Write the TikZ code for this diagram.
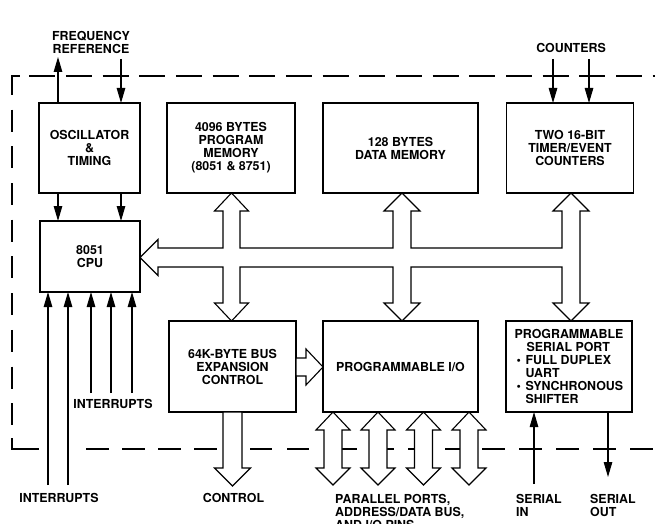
\documentclass[tikz,border=0pt]{standalone}
\usepackage{fontspec}
\setmainfont{TeX Gyre Heros}
\usetikzlibrary{arrows.meta}
\begin{document}
\begin{tikzpicture}[x=1pt,y=-1pt,
  txt/.style={font=\fontsize{12.4}{13}\selectfont\bfseries, align=center},
  blk/.style={txt, draw, line width=1.8pt, inner sep=0pt, outer sep=0pt, line join=miter},
  lbl/.style={txt, inner sep=0pt},
  arr/.style={line width=1.1pt, -{Triangle[length=15pt,width=8.5pt]}},
  bus/.style={draw, fill=white, line width=1.1pt, line join=miter},
  bnd/.style={line width=2pt},
]
\useasboundingbox (0,0) rectangle (655,524);

% chip boundary (dashed)
\draw[bnd] (12,95) -- (12,76) -- (20,76);
\draw[bnd, dash pattern=on 26pt off 10.67pt] (29.3,76) -- (655,76);
\draw[bnd, dash pattern=on 22pt off 14.7pt] (12,109.6) -- (12,425);
\draw[bnd] (12,438) -- (12,449) -- (39,449);
\draw[bnd, dash pattern=on 22.5pt off 13.5pt] (86,449) -- (222,449);
\draw[bnd, dash pattern=on 22pt off 15pt] (250,449) -- (312,449);
\draw[bnd, dash pattern=on 23pt off 14pt] (334,449) -- (655,449);

% blocks
\node[blk, minimum width=101pt, minimum height=90pt] (osc) at (89.5,148) {OSCILLATOR\\\&\\TIMING};
\node[blk, minimum width=128pt, minimum height=90pt] (prog) at (231,148) {4096 BYTES\\PROGRAM\\MEMORY\\(8051 \& 8751)};
\node[blk, minimum width=155pt, minimum height=90pt] (data) at (400.5,148) {128 BYTES\\DATA MEMORY};
\node[blk, minimum width=127pt, minimum height=90pt] (timer) at (570,148) {TWO 16-BIT\\TIMER/EVENT\\COUNTERS};
\node[blk, minimum width=100pt, minimum height=71pt] (cpu) at (90,256.5) {8051\\CPU};
\node[blk, minimum width=127pt, minimum height=91pt] (busx) at (232.5,366.5) {64K-BYTE BUS\\EXPANSION\\CONTROL};
\node[blk, minimum width=155pt, minimum height=91pt] (io) at (400.5,366.5) {PROGRAMMABLE I/O};
\node[blk, minimum width=126pt, minimum height=91pt, align=left] (ser) at (569,366.5)
  {PROGRAMMABLE\\\hspace*{12pt}SERIAL PORT\\\hspace*{2pt}\makebox[9pt][l]{•}FULL DUPLEX\\\hspace*{11pt}UART\\\hspace*{2pt}\makebox[9pt][l]{•}SYNCHRONOUS\\\hspace*{11pt}SHIFTER};

% internal bus (hollow arrows)
\draw[bus] (140,257.5) -- (158,239.5) -- (158,248) -- (223,248) -- (223,211) -- (214.5,211) -- (231.5,193)
  -- (248.5,211) -- (240,211) -- (240,248) -- (393,248) -- (393,211) -- (384,211) -- (402,193)
  -- (420,211) -- (411,211) -- (411,248) -- (562,248) -- (562,211) -- (553,211) -- (571,193)
  -- (589,211) -- (580,211) -- (580,303) -- (589,303) -- (571,321) -- (553,303) -- (562,303)
  -- (562,267) -- (411,267) -- (411,303) -- (420,303) -- (402,321) -- (384,303) -- (393,303)
  -- (393,267) -- (240,267) -- (240,303) -- (248.5,303) -- (231.5,321) -- (214.5,303) -- (223,303)
  -- (223,267) -- (158,267) -- (158,275.5) -- cycle;

% bus expansion -> programmable I/O
\draw[bus] (296,358) -- (306,358) -- (306,349) -- (323,367) -- (306,385) -- (306,376) -- (296,376) -- cycle;

% control
\draw[bus] (223,412) -- (223,468) -- (214.5,468) -- (232.5,486) -- (250.5,468) -- (242,468) -- (242,412) -- cycle;

% parallel ports
\foreach \c in {333,378,423.5,469}{
  \draw[bus] (\c,412) -- (\c+17,430) -- (\c+9,430) -- (\c+9,468) -- (\c+17,468) -- (\c,485)
    -- (\c-17,468) -- (\c-9,468) -- (\c-9,430) -- (\c-17,430) -- cycle;
}

% free ends
\coordinate (fo) at (58,57);
\coordinate (fi) at (121,59);
\coordinate (c1) at (58,0);
\coordinate (c2) at (121,0);
\coordinate (t1) at (553,59);
\coordinate (t2) at (589,59);
\coordinate (i1) at (48,485);
\coordinate (i2) at (68,485);
\coordinate (i3) at (91,393);
\coordinate (i4) at (111,393);
\coordinate (i5) at (132,393);
\coordinate (si) at (534,484);
\coordinate (so) at (608,477);

% line arrows
\draw[arr] (osc.north -| fo) -- (fo);
\draw[arr] (fi) -- (osc.north -| fi);
\draw[arr] (osc.south -| c1) -- (cpu.north -| c1);
\draw[arr] (osc.south -| c2) -- (cpu.north -| c2);
\draw[arr] (t1) -- (timer.north -| t1);
\draw[arr] (t2) -- (timer.north -| t2);
\foreach \i in {i1,i2,i3,i4,i5}{
  \draw[arr] (\i) -- (cpu.south -| \i);
}
\draw[arr] (si) -- (ser.south -| si);
\draw[arr] (ser.south -| so) -- (so);

% labels
\node[lbl, anchor=north] (lfr) at (91,31) {FREQUENCY\\REFERENCE};
\node[lbl, anchor=base] (lcnt) at (571,53) {COUNTERS};
\node[lbl, anchor=base] (lint1) at (113,408) {INTERRUPTS};
\node[lbl, anchor=base] (lint2) at (59,502) {INTERRUPTS};
\node[lbl, anchor=base] (lctl) at (233.5,502) {CONTROL};
\node[lbl, anchor=north west, align=left] (lpp) at (335,494) {PARALLEL PORTS,\\ADDRESS/DATA BUS,\\AND I/O PINS};
\node[lbl, anchor=north west, align=left] (lsi) at (516,494) {SERIAL\\IN};
\node[lbl, anchor=north west, align=left] (lso) at (590,494) {SERIAL\\OUT};
\end{tikzpicture}
\end{document}
